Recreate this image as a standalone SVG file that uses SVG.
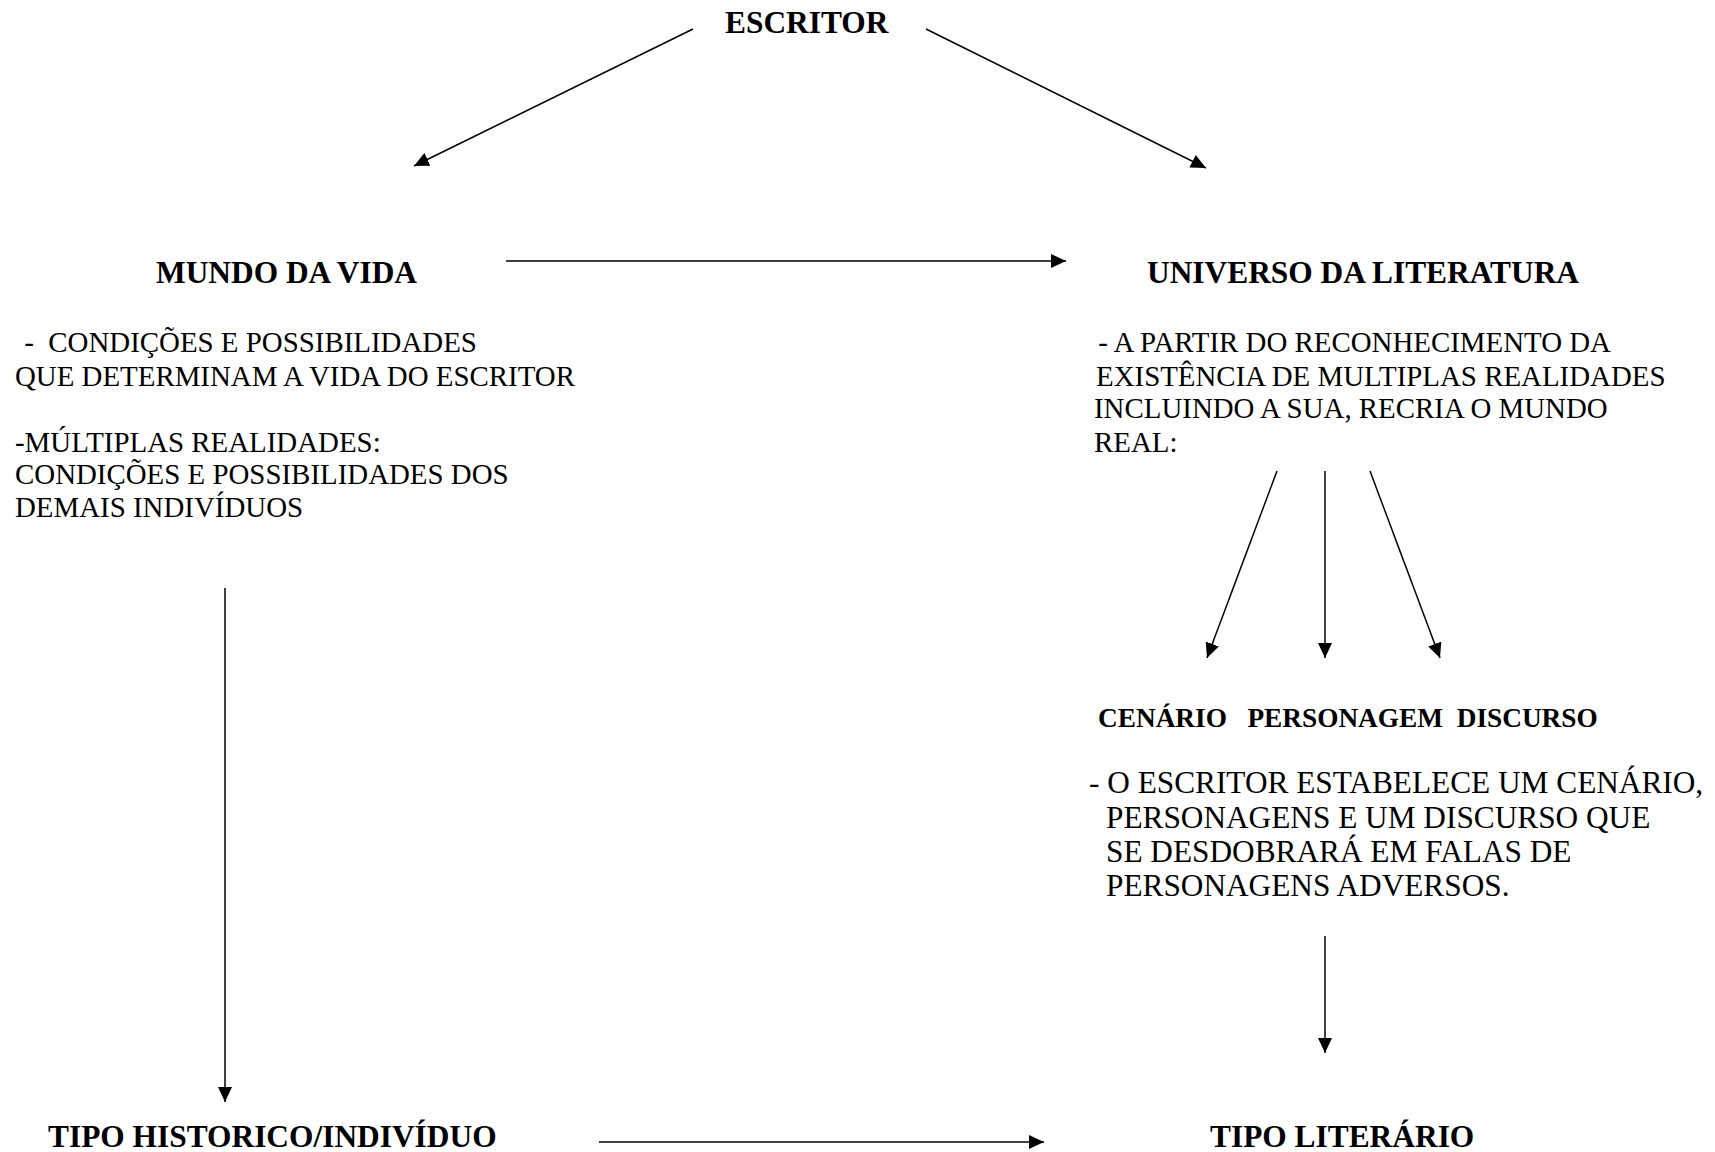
<svg xmlns="http://www.w3.org/2000/svg" width="1715" height="1152" viewBox="0 0 1715 1152">
<style>
text { font-family: "Liberation Serif", "Times New Roman", serif; fill: #000; white-space: pre; }
.h { font-weight: bold; font-size: 31.4px; }
.b { font-size: 28.9px; }
.b2 { font-size: 31.3px; }
.sub { font-weight: bold; font-size: 27.3px; }
.c { stroke: #000; stroke-width: 1.5; fill: none; marker-end: url(#ah); }
</style>
<defs>
<marker id="ah" viewBox="0 0 15 14" markerWidth="15" markerHeight="14" refX="15" refY="7" orient="auto" markerUnits="userSpaceOnUse">
<path d="M0,0 L15,7 L0,14 z" fill="#000"/>
</marker>
</defs>
<rect width="1715" height="1152" fill="#fff"/>
<g id="connectors">
<line class="c" x1="693" y1="29" x2="414" y2="166"/>
<line class="c" x1="926" y1="29" x2="1206" y2="168"/>
<line class="c" x1="506" y1="261" x2="1066" y2="261"/>
<line class="c" x1="1277" y1="471" x2="1207" y2="658"/>
<line class="c" x1="1325" y1="471" x2="1325" y2="658"/>
<line class="c" x1="1370" y1="471" x2="1440" y2="658"/>
<line class="c" x1="225" y1="588" x2="225" y2="1102"/>
<line class="c" x1="1325" y1="936" x2="1325" y2="1053"/>
<line class="c" x1="599" y1="1142" x2="1044" y2="1142"/>
</g>
<g id="escritor"><text class="h" x="725" y="33">ESCRITOR</text></g>
<g id="mundo-da-vida">
<text class="h" x="156" y="283">MUNDO DA VIDA</text>
<text class="b" x="17" y="352"> -  CONDIÇÕES E POSSIBILIDADES</text>
<text class="b" x="15" y="386">QUE DETERMINAM A VIDA DO ESCRITOR</text>
<text class="b" x="15" y="452">-MÚLTIPLAS REALIDADES:</text>
<text class="b" x="15" y="484">CONDIÇÕES E POSSIBILIDADES DOS</text>
<text class="b" x="15" y="517">DEMAIS INDIVÍDUOS</text>
</g>
<g id="universo-da-literatura">
<text class="h" x="1147" y="283">UNIVERSO DA LITERATURA</text>
<text class="b" x="1091" y="352"> - A PARTIR DO RECONHECIMENTO DA</text>
<text class="b" x="1096" y="386">EXISTÊNCIA DE MULTIPLAS REALIDADES</text>
<text class="b" x="1094" y="418">INCLUINDO A SUA, RECRIA O MUNDO</text>
<text class="b" x="1094" y="452">REAL:</text>
</g>
<g id="cenario-personagem-discurso">
<text class="sub" x="1098" y="727">CENÁRIO   PERSONAGEM  DISCURSO</text>
<text class="b2" x="1089" y="793">- O ESCRITOR ESTABELECE UM CENÁRIO,</text>
<text class="b2" x="1106" y="828">PERSONAGENS E UM DISCURSO QUE</text>
<text class="b2" x="1106" y="862">SE DESDOBRARÁ EM FALAS DE</text>
<text class="b2" x="1106" y="896">PERSONAGENS ADVERSOS.</text>
</g>
<g id="tipo-historico"><text class="h" x="48" y="1147">TIPO HISTORICO/INDIVÍDUO</text></g>
<g id="tipo-literario"><text class="h" x="1210" y="1147">TIPO LITERÁRIO</text></g>
</svg>
